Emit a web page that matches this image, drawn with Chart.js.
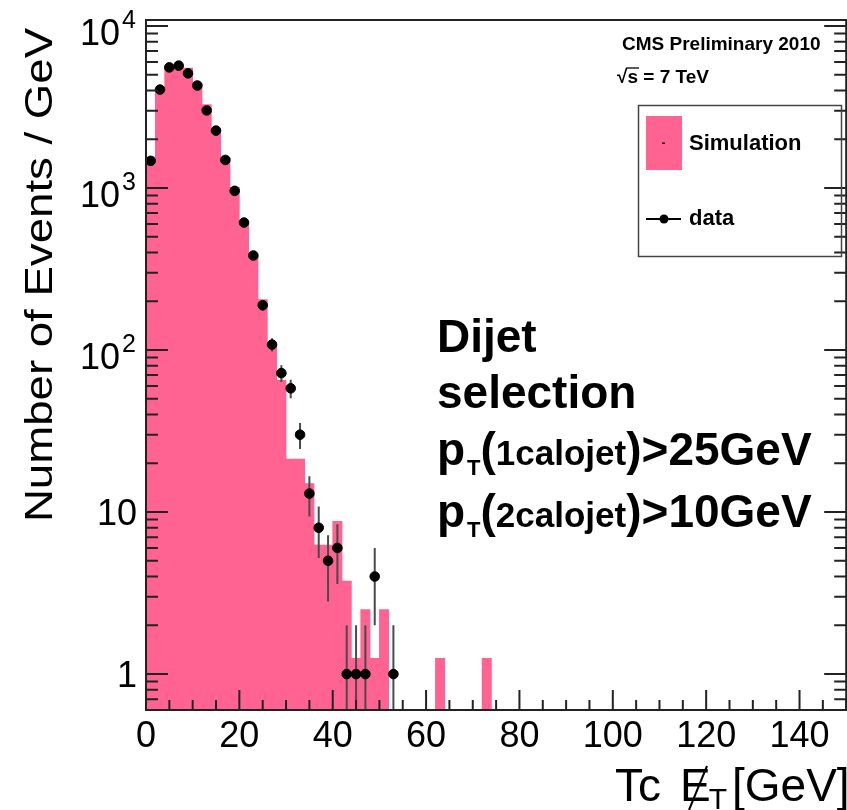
<!DOCTYPE html>
<html>
<head>
<meta charset="utf-8">
<script src="https://cdn.jsdelivr.net/npm/chart.js@4.4.1/dist/chart.umd.min.js"></script>
<style>
  html, body { margin: 0; padding: 0; background: #fff; overflow: hidden; }
  #wrap { position: absolute; left: 0; top: 0; width: 852px; height: 810px; }
</style>
</head>
<body>
<div id="wrap"><canvas id="c" width="852" height="810"></canvas></div>
<script>
// Missing transverse energy, 2 GeV bins (bin centres in GeV)
const binCenters = [1, 3, 5, 7, 9, 11, 13, 15, 17, 19, 21, 23, 25, 27, 29, 31, 33, 35, 37, 39,
                    41, 43, 45, 47, 49, 51, 53, 55, 57, 59, 61, 63, 65, 67, 69, 71, 73];
// Simulation, events / GeV (null = empty bin)
const simulation = [1550, 4050, 5650, 5700, 5500, 4400, 3270, 2300, 1540, 1010,
                    600, 379, 205, 106, 65, 21.25, 21.25, 15, 6.25, 6.25,
                    8.75, 3.75, 1.25, 2.5, 1.25, 2.5, null, null, null, null,
                    null, 1.25, null, null, null, null, 1.25];
// Data points, events / GeV, with statistical errors
const dataCenters = [1, 3, 5, 7, 9, 11, 13, 15, 17, 19, 21, 23, 25, 27, 29, 31, 33, 35, 37, 39,
                     41, 43, 45, 47, 49, 53];
const dataValues  = [1470, 4050, 5550, 5690, 5100, 4290, 3010, 2260, 1490, 960,
                     612, 383, 189, 108, 72, 58, 30, 13, 8, 5,
                     6, 1, 1, 1, 4, 1];
const dataErrors  = [38, 64, 74, 75, 71, 65, 55, 48, 39, 31,
                     25, 20, 14, 10, 8.5, 7.6, 5.5, 3.6, 2.8, 2.2,
                     2.4, 1, 1, 1, 2, 1];

const xTickValues = [0, 20, 40, 60, 80, 100, 120, 140];
const yTickValues = [1, 10, 100, 1000, 10000];
const yTickBase   = ['1', '10', '10', '10', '10'];
const yTickExp    = ['', '', '2', '3', '4'];

const FONT = '"Liberation Sans", Arial, Helvetica, sans-serif';
const PINK = '#ff6392';
const AXIS = '#222';

function errorBars(chart) {
  const ctx = chart.ctx, xs = chart.scales.x, ys = chart.scales.y, a = chart.chartArea;
  ctx.save();
  ctx.beginPath(); ctx.rect(a.left, a.top, a.right - a.left, a.bottom - a.top); ctx.clip();
  ctx.strokeStyle = '#4a4a4a'; ctx.lineWidth = 2;
  dataCenters.forEach((c, i) => {
    const v = dataValues[i], e = dataErrors[i];
    const px = xs.getPixelForValue(c);
    const top = ys.getPixelForValue(v + e);
    const lo = v - e;
    const bot = lo > 0 ? ys.getPixelForValue(lo) : a.bottom + 2;
    ctx.beginPath(); ctx.moveTo(px, top); ctx.lineTo(px, bot); ctx.stroke();
  });
  ctx.restore();
}

function frameAndTicks(chart) {
  const ctx = chart.ctx, xs = chart.scales.x, ys = chart.scales.y, a = chart.chartArea;
  ctx.save();
  ctx.strokeStyle = AXIS; ctx.lineWidth = 2;
  ctx.strokeRect(a.left, a.top, a.right - a.left, a.bottom - a.top);
  ctx.beginPath();
  // x ticks every 5 GeV, long ones at labelled values
  for (let v = 0; v <= 150; v += 5) {
    const px = xs.getPixelForValue(v);
    const len = v % 20 === 0 ? 20 : 10;
    ctx.moveTo(px, a.bottom); ctx.lineTo(px, a.bottom - len);
  }
  // log y ticks on both sides
  for (let d = -1; d <= 4; d++) {
    for (let m = 1; m <= 9; m++) {
      const v = m * Math.pow(10, d);
      if (v < ys.min || v > ys.max) continue;
      const py = ys.getPixelForValue(v);
      const len = m === 1 ? 22 : 12;
      ctx.moveTo(a.left, py); ctx.lineTo(a.left + len, py);
      ctx.moveTo(a.right, py); ctx.lineTo(a.right - len, py);
    }
  }
  ctx.stroke();
  ctx.restore();
}

function yLabels(chart) {
  const ctx = chart.ctx, ys = chart.scales.y;
  ctx.save();
  ctx.fillStyle = '#000'; ctx.textBaseline = 'alphabetic'; ctx.textAlign = 'left';
  yTickValues.forEach((v, i) => {
    const py = ys.getPixelForValue(v);
    const base = yTickBase[i], exp = yTickExp[i];
    ctx.font = '36px ' + FONT;
    const wb = ctx.measureText(base).width;
    if (exp) {
      ctx.font = '25px ' + FONT;
      const we = ctx.measureText(exp).width;
      const baseY = py + 19;
      const xe = 136 - we;
      ctx.fillText(exp, xe, baseY - 17);
      ctx.font = '36px ' + FONT;
      ctx.fillText(base, xe - 2 - wb, baseY);
    } else {
      ctx.font = '36px ' + FONT;
      ctx.fillText(base, 137 - wb, py + 13);
    }
  });
  ctx.restore();
}

function axisTitles(chart) {
  const ctx = chart.ctx;
  ctx.save();
  ctx.fillStyle = '#000';
  // y title, rotated
  ctx.translate(52, 275);
  ctx.rotate(-Math.PI / 2);
  ctx.scale(1.2, 1);
  ctx.font = '38px ' + FONT;
  ctx.textAlign = 'center'; ctx.textBaseline = 'alphabetic';
  ctx.fillText('Number of Events / GeV', 0, 0);
  ctx.restore();

  // x title: Tc E-slash_T [GeV]
  ctx.save();
  ctx.fillStyle = '#000'; ctx.textAlign = 'left'; ctx.textBaseline = 'alphabetic';
  const by = 801;
  ctx.font = '46px ' + FONT;
  ctx.fillText('Tc', 615, by);
  ctx.fillText('E', 680, by);
  const wE = ctx.measureText('E').width;
  ctx.strokeStyle = '#000'; ctx.lineWidth = 2;
  ctx.beginPath(); ctx.moveTo(689, 810); ctx.lineTo(707, 766); ctx.stroke();
  ctx.font = '30px ' + FONT;
  ctx.fillText('T', 680 + wE - 2, by + 8);
  ctx.font = '46px ' + FONT;
  ctx.fillText('[GeV]', 732, by);
  ctx.restore();
}

function annotations(chart) {
  const ctx = chart.ctx;
  ctx.save();
  ctx.fillStyle = '#000'; ctx.textAlign = 'left'; ctx.textBaseline = 'alphabetic';
  ctx.font = 'bold 19px ' + FONT;
  ctx.fillText('CMS Preliminary 2010', 622, 50);
  ctx.fillText('\u221As = 7 TeV', 617, 83);
  const wr = ctx.measureText('\u221A').width, ws = ctx.measureText('s').width;
  ctx.strokeStyle = '#000'; ctx.lineWidth = 1.3;
  ctx.beginPath(); ctx.moveTo(617 + wr - 1, 68); ctx.lineTo(617 + wr + ws + 1, 68); ctx.stroke();

  // legend
  ctx.strokeStyle = '#444'; ctx.lineWidth = 1.5;
  ctx.strokeRect(638.5, 105.5, 203, 151);
  ctx.fillStyle = PINK;
  ctx.fillRect(646, 116, 36, 54);
  ctx.fillStyle = '#000';
  ctx.fillRect(662, 142.5, 3, 1.5);
  ctx.font = 'bold 22px ' + FONT;
  ctx.textBaseline = 'middle';
  ctx.fillText('Simulation', 689, 144);
  ctx.fillText('data', 689, 219);
  ctx.strokeStyle = '#000'; ctx.lineWidth = 2;
  ctx.beginPath(); ctx.moveTo(646, 219); ctx.lineTo(681, 219); ctx.stroke();
  ctx.beginPath(); ctx.arc(664, 219, 4.5, 0, Math.PI * 2); ctx.fill();

  // selection text
  ctx.textBaseline = 'alphabetic';
  ctx.font = 'bold 46px ' + FONT;
  ctx.fillText('Dijet', 437, 352);
  ctx.fillText('selection', 437, 408);
  ptLine(ctx, 437, 465, '1calojet', '>25GeV');
  ptLine(ctx, 437, 527, '2calojet', '>10GeV');
  ctx.restore();
}

function ptLine(ctx, x, y, inner, tail) {
  ctx.font = 'bold 46px ' + FONT;
  ctx.fillText('p', x, y); x += ctx.measureText('p').width + 2;
  ctx.font = 'bold 22px ' + FONT;
  ctx.fillText('T', x, y + 10); x += ctx.measureText('T').width;
  ctx.font = 'bold 46px ' + FONT;
  ctx.fillText('(', x, y); x += ctx.measureText('(').width;
  ctx.font = 'bold 35px ' + FONT;
  ctx.fillText(inner, x, y); x += ctx.measureText(inner).width;
  ctx.font = 'bold 46px ' + FONT;
  ctx.fillText(')', x, y); x += ctx.measureText(')').width;
  ctx.fillText(tail, x, y);
}

const decorations = {
  id: 'decorations',
  afterDatasetDraw(chart, args) {
    if (args.index === 0) errorBars(chart);
  },
  afterDraw(chart) {
    frameAndTicks(chart);
    yLabels(chart);
    axisTitles(chart);
    annotations(chart);
  }
};

new Chart(document.getElementById('c'), {
  data: {
    datasets: [
      {
        type: 'bar',
        label: 'Simulation',
        data: binCenters.map((c, i) => ({ x: c, y: simulation[i] })),
        backgroundColor: PINK,
        borderWidth: 0,
        barPercentage: 1,
        categoryPercentage: 1,
        order: 2
      },
      {
        type: 'scatter',
        label: 'data',
        data: dataCenters.map((c, i) => ({ x: c, y: dataValues[i] })),
        backgroundColor: '#000',
        borderColor: '#000',
        pointRadius: 4.8,
        pointHoverRadius: 4.8,
        order: 1
      }
    ]
  },
  options: {
    responsive: false,
    animation: false,
    devicePixelRatio: 1,
    layout: { padding: { top: 20, right: 3, left: 0, bottom: 0 } },
    plugins: { legend: { display: false }, tooltip: { enabled: false } },
    scales: {
      x: {
        type: 'linear',
        offset: false,
        min: 0, max: 150,
        afterBuildTicks: s => { s.ticks = xTickValues.map(v => ({ value: v })); },
        afterFit: s => { s.height = 100; },
        grid: { display: false, offset: false },
        border: { display: false },
        ticks: { font: { family: FONT, size: 36 }, color: '#000', padding: -3, maxRotation: 0, autoSkip: false }
      },
      y: {
        type: 'logarithmic',
        min: 0.627, max: 10885,
        afterFit: s => { s.width = 146; },
        grid: { display: false },
        border: { display: false },
        ticks: { display: false }
      }
    }
  },
  plugins: [decorations]
});
</script>
</body>
</html>
